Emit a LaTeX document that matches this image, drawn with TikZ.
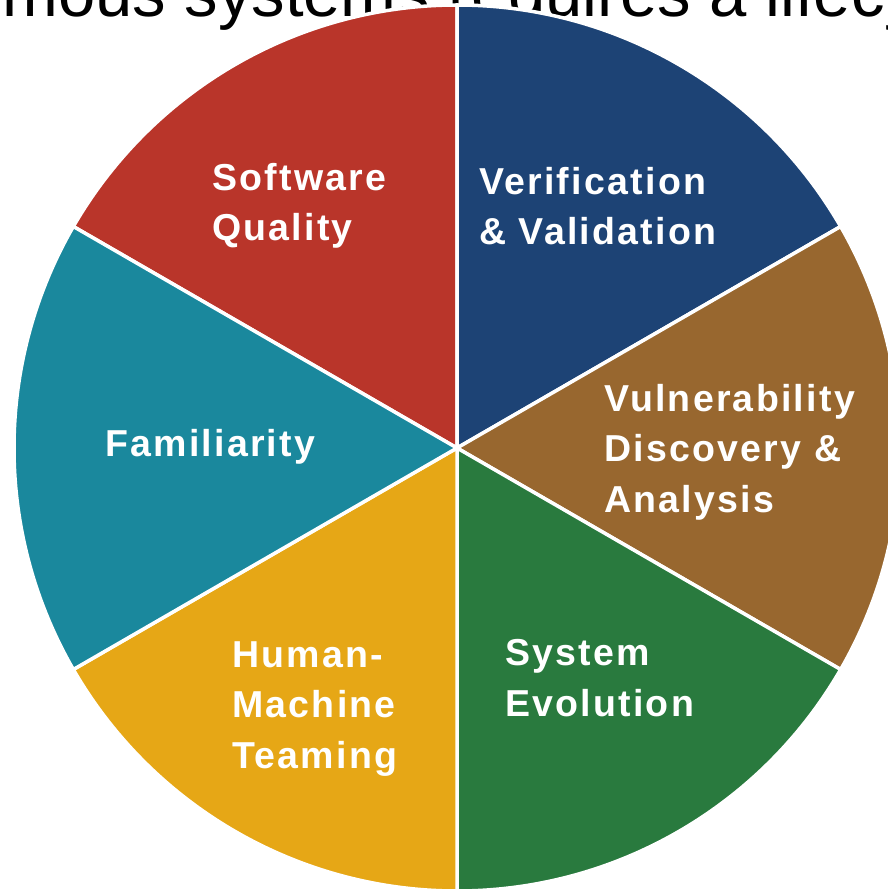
\documentclass[tikz,border=0pt]{standalone}
\usepackage{fontspec}
\setmainfont{Liberation Sans}
\newfontfamily\wedgefont[LetterSpace=6]{Liberation Sans}

\definecolor{swred}{RGB}{185,53,42}
\definecolor{vvblue}{RGB}{29,67,117}
\definecolor{vdbrown}{RGB}{152,103,47}
\definecolor{segreen}{RGB}{41,122,62}
\definecolor{hmgold}{RGB}{230,167,22}
\definecolor{fateal}{RGB}{26,136,157}

\tikzset{
  wedge/.style={fill=#1, draw=white, line width=3.5pt, line join=round},
  wedgelabel/.style={font=\wedgefont\bfseries\fontsize{37.5}{50.5}\selectfont,
    text=white, align=left, anchor=base west, inner sep=0pt},
}

\begin{document}
\begin{tikzpicture}[x=1pt, y=1pt]
\useasboundingbox (-457,-446) rectangle (431,448);

% heading line, cut by the page edge and covered by the wheel
\node[font=\fontsize{67}{80}\selectfont, anchor=base west, inner sep=0pt]
  (heading) at (-455,431) {mous systems requires a lifecy};

% six equal wedges
\coordinate (hub) at (0,0);
\def\rad{443}
\foreach \from/\to/\col in {90/150/swred, 30/90/vvblue, -30/30/vdbrown,
    -90/-30/segreen, 210/270/hmgold, 150/210/fateal}
  \draw[wedge=\col] (hub) -- (\from:\rad) arc[start angle=\from, end angle=\to, radius=\rad] -- cycle;

% labels: the base anchor sits on the last line
\node[wedgelabel] (quality) at (-245,207) {Software\\Quality};
\node[wedgelabel] (vandv) at (22,203) {Verification\\\& Validation};
\node[wedgelabel] (vuln) at (147,-64) {Vulnerability\\Discovery \&\\Analysis};
\node[wedgelabel] (famil) at (-352,-9) {Familiarity};
\node[wedgelabel] (teaming) at (-225,-320) {Human-\\Machine\\Teaming};
\node[wedgelabel] (evol) at (48,-268) {System\\Evolution};

\end{tikzpicture}
\end{document}
